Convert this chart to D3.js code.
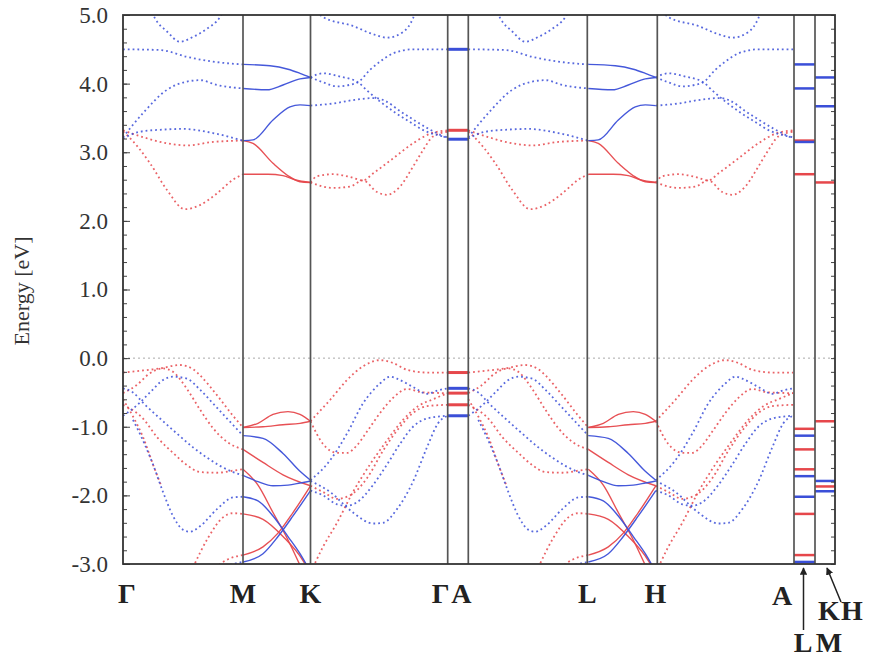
<!DOCTYPE html>
<html>
<head>
<meta charset="utf-8">
<script src="https://cdn.jsdelivr.net/npm/d3@7"></script>
<style>
  body { margin: 0; background: #fff; }
  svg text { font-family: "Liberation Serif", "DejaVu Serif", serif; }
</style>
</head>
<body>
<div id="chart"></div>
<script>
// k path nodes (arbitrary k units along the path)
const kNodes = [0, 120, 187.5, 324.7, 345.3, 464.3, 534.3, 671, 692, 712];
const kA = 345.3; // start of the kz = pi/c plane (A-L-H-A), same dispersion at this scale

// spin-up (red) / spin-down (blue) bands, [k, E(eV)]
// Gamma-M
const gmRed = [
  [[0,3.32],[20,3.22],[44,3.13],[64,3.10],[90,3.15],[120,3.17]],
  [[0,3.30],[4,3.25],[27,2.84],[44,2.45],[62,2.17],[77,2.23],[94,2.40],[110,2.60],[120,2.68]],
  [[0,-0.21],[20,-0.18],[37,-0.15],[57,-0.10],[70,-0.16],[77,-0.25],[94,-0.54],[110,-0.84],[120,-1.01]],
  [[0,-0.51],[13,-0.40],[27,-0.22],[40,-0.15],[50,-0.20],[64,-0.45],[77,-0.75],[90,-1.02],[104,-1.22],[120,-1.33]],
  [[0,-0.68],[20,-0.88],[34,-1.15],[50,-1.38],[64,-1.56],[77,-1.66],[94,-1.67],[110,-1.64],[120,-1.62]],
  [[0,-0.60],[10,-0.85],[20,-1.15],[30,-1.55],[38,-1.85]],
  [[70,-3.05],[85,-2.62],[100,-2.32],[110,-2.26],[120,-2.27]],
  [[92,-3.05],[105,-2.93],[120,-2.87]]
];
const gmBlue = [
  [[0,4.50],[37,4.49],[64,4.39],[90,4.32],[120,4.28]],
  [[0,3.22],[20,3.57],[44,3.91],[64,4.03],[77,4.05],[94,3.98],[120,3.93]],
  [[0,3.20],[17,3.30],[40,3.33],[60,3.34],[90,3.28],[120,3.17]],
  [[27,5.10],[32,4.95],[44,4.76],[57,4.61],[70,4.68],[84,4.80],[97,4.97],[102,5.10]],
  [[0,-0.84],[13,-0.70],[27,-0.50],[40,-0.32],[50,-0.27],[64,-0.30],[77,-0.46],[90,-0.66],[104,-0.88],[120,-1.13]],
  [[0,-0.44],[10,-0.50],[20,-0.65],[37,-0.88],[54,-1.10],[70,-1.30],[84,-1.45],[97,-1.57],[110,-1.66],[120,-1.71]],
  [[10,-0.90],[20,-1.20],[30,-1.55],[40,-1.95],[50,-2.30],[60,-2.50],[67,-2.53],[77,-2.45],[94,-2.20],[110,-2.03],[120,-2.02]],
  [[98,-3.05],[110,-3.0],[120,-2.97]]
];
// M-K
const mkRed = [
  [[120,3.17],[130,3.13],[150,2.84],[167,2.64],[177,2.57],[187.5,2.56]],
  [[120,2.68],[145,2.68],[160,2.66],[172,2.60],[187.5,2.56]],
  [[120,-1.01],[135,-0.95],[150,-0.82],[165,-0.78],[177,-0.82],[187.5,-0.92]],
  [[120,-1.01],[140,-1.00],[160,-0.97],[177,-0.95],[187.5,-0.92]],
  [[120,-1.33],[140,-1.52],[160,-1.70],[187.5,-1.86]],
  [[120,-1.62],[135,-1.85],[150,-2.25],[165,-2.65],[178,-3.05]],
  [[120,-2.27],[140,-2.35],[160,-2.60],[180,-2.95],[184,-3.05]],
  [[120,-2.87],[140,-2.75],[155,-2.55],[170,-2.25],[187.5,-1.86]]
];
const mkBlue = [
  [[120,4.28],[147,4.26],[165,4.21],[177,4.15],[187.5,4.09]],
  [[120,3.93],[144,3.91],[160,3.98],[177,4.07],[187.5,4.09]],
  [[120,3.17],[130,3.18],[150,3.47],[167,3.66],[177,3.69],[187.5,3.68]],
  [[120,-1.13],[140,-1.17],[160,-1.39],[177,-1.65],[187.5,-1.78]],
  [[120,-1.71],[135,-1.80],[150,-1.86],[165,-1.85],[177,-1.82],[187.5,-1.79]],
  [[120,-2.02],[135,-2.08],[150,-2.30],[165,-2.60],[177,-2.85],[185,-3.05]],
  [[120,-2.97],[140,-2.85],[155,-2.60],[170,-2.30],[187.5,-1.93]]
];
// K-Gamma
const kgRed = [
  [[187.5,2.56],[194,2.65],[210,2.68],[227,2.64],[240,2.59],[250,2.69],[270,2.91],[290,3.13],[307,3.27],[324.7,3.32]],
  [[187.5,2.56],[210,2.48],[227,2.50],[240,2.59],[254,2.42],[264,2.38],[277,2.50],[290,2.79],[300,3.03],[310,3.23],[324.7,3.30]],
  [[187.5,-0.92],[190,-0.88],[207,-0.61],[224,-0.32],[240,-0.12],[257,-0.03],[270,-0.07],[284,-0.17],[304,-0.21],[324.7,-0.21]],
  [[187.5,-0.92],[200,-1.25],[214,-1.38],[224,-1.38],[234,-1.27],[244,-1.07],[257,-0.80],[270,-0.58],[284,-0.45],[300,-0.50],[324.7,-0.51]],
  [[187.5,-1.86],[200,-1.95],[214,-2.05],[227,-2.00],[244,-1.75],[260,-1.35],[277,-1.00],[290,-0.80],[304,-0.70],[324.7,-0.68]],
  [[190,-3.05],[200,-2.75],[214,-2.40],[230,-1.95],[247,-1.55],[264,-1.20],[280,-0.90],[295,-0.70],[310,-0.60],[324.7,-0.51]]
];
const kgBlue = [
  [[187.5,4.09],[200,4.15],[218,4.10],[235,4.02],[244,3.90],[257,3.74],[272,3.58],[287,3.44],[302,3.31],[317,3.24],[324.7,3.22]],
  [[187.5,4.09],[200,4.02],[214,3.96],[226,3.98],[235,4.02],[247,4.20],[257,4.32],[270,4.44],[290,4.50],[324.7,4.50]],
  [[187.5,3.68],[210,3.71],[230,3.76],[252,3.79],[262,3.75],[277,3.60],[292,3.46],[307,3.33],[324.7,3.20]],
  [[190,5.10],[200,4.97],[230,4.84],[250,4.72],[264,4.67],[280,4.75],[290,4.95],[294,5.10]],
  [[187.5,-1.78],[207,-1.49],[224,-1.10],[240,-0.66],[257,-0.37],[267,-0.27],[274,-0.30],[290,-0.42],[304,-0.52],[315,-0.47],[324.7,-0.44]],
  [[187.5,-1.93],[200,-2.00],[214,-2.13],[224,-2.15],[234,-2.10],[250,-1.85],[264,-1.55],[277,-1.25],[290,-1.00],[304,-0.88],[324.7,-0.84]],
  [[187.5,-1.79],[207,-1.95],[230,-2.25],[250,-2.41],[260,-2.40],[274,-2.20],[290,-1.80],[304,-1.30],[315,-0.95],[324.7,-0.84]]
];
// nearly flat bands along Gamma-A, L-M and K-H
const gaRed = [3.32, -0.21, -0.51, -0.68];
const gaBlue = [4.50, 3.19, -0.44, -0.84];
const lmRed = [3.17, 2.68, -1.03, -1.33, -1.62, -2.27, -2.87];
const lmBlue = [4.28, 3.93, 3.15, -1.13, -1.72, -2.02, -2.97];
const khRed = [2.56, -0.92, -1.87];
const khBlue = [4.09, 3.67, -1.79, -1.94];

const yTicks = d3.range(-3, 5.001, 1);

const RED = "#e6474b", BLUE = "#3b4fd8";

const width = 875, height = 659;
const x = d3.scaleLinear().domain([0, 712]).range([123, 835]);
const y = d3.scaleLinear().domain([-3, 5]).range([564, 15]);

const svg = d3.select("#chart").append("svg")
  .attr("width", width).attr("height", height);

svg.append("defs").append("clipPath").attr("id", "plot")
  .append("rect")
  .attr("x", x(0)).attr("y", y(5))
  .attr("width", x(712) - x(0)).attr("height", y(-3) - y(5));

const plot = svg.append("g").attr("clip-path", "url(#plot)");

// Fermi level
plot.append("line")
  .attr("x1", x(0)).attr("x2", x(712))
  .attr("y1", y(0)).attr("y2", y(0))
  .attr("stroke", "#aaa").attr("stroke-width", 1)
  .attr("stroke-dasharray", "2 3");

const line = d3.line()
  .x(d => x(d[0]))
  .y(d => y(d[1]))
  .curve(d3.curveMonotoneX);

function drawBands(bands, color, solid) {
  [0, kA].forEach(off => {
    plot.append("g")
      .selectAll("path")
      .data(bands)
      .join("path")
      .attr("d", b => line(b.map(p => [p[0] + off, p[1]])))
      .attr("fill", "none")
      .attr("stroke", color)
      .attr("stroke-width", solid ? 1.4 : 1.8)
      .attr("stroke-dasharray", solid ? null : "1.8 3")
      .attr("opacity", solid ? 0.95 : 0.85);
  });
}

drawBands(gmRed, RED, false);
drawBands(gmBlue, BLUE, false);
drawBands(kgRed, RED, false);
drawBands(kgBlue, BLUE, false);
drawBands(mkRed, RED, true);
drawBands(mkBlue, BLUE, true);

function drawFlat(levels, k0, k1, color, w) {
  plot.append("g")
    .selectAll("line")
    .data(levels)
    .join("line")
    .attr("x1", x(k0)).attr("x2", x(k1))
    .attr("y1", d => y(d)).attr("y2", d => y(d))
    .attr("stroke", color).attr("stroke-width", w);
}
drawFlat(gaRed, kNodes[3], kNodes[4], RED, 3);
drawFlat(gaBlue, kNodes[3], kNodes[4], BLUE, 3);
drawFlat(lmRed, kNodes[7], kNodes[8], RED, 2.5);
drawFlat(lmBlue, kNodes[7], kNodes[8], BLUE, 2.5);
drawFlat(khRed, kNodes[8], kNodes[9], RED, 2.5);
drawFlat(khBlue, kNodes[8], kNodes[9], BLUE, 2.5);

// high-symmetry lines
svg.append("g")
  .selectAll("line")
  .data(kNodes.slice(1, -1))
  .join("line")
  .attr("x1", d => x(d)).attr("x2", d => x(d))
  .attr("y1", y(5)).attr("y2", y(-3))
  .attr("stroke", "#555").attr("stroke-width", 1.7);

// axes: ticks point inwards
const minor = d3.range(-3, 5.001, 0.2);
svg.append("g")
  .attr("transform", `translate(${x(0)},0)`)
  .call(d3.axisLeft(y).tickValues(minor).tickSize(-4).tickFormat(""))
  .call(g => g.select(".domain").remove())
  .call(g => g.selectAll("line").attr("stroke", "#444"));
svg.append("g")
  .attr("transform", `translate(${x(0)},0)`)
  .call(d3.axisLeft(y).tickValues(yTicks).tickSize(-7).tickPadding(15).tickFormat(d => d.toFixed(1)))
  .call(g => g.select(".domain").remove())
  .call(g => g.selectAll("line").attr("stroke", "#444"))
  .call(g => g.selectAll("text").attr("font-size", 23).attr("fill", "#333")
    .attr("font-family", "Liberation Serif, serif"));
svg.append("g")
  .attr("transform", `translate(${x(712)},0)`)
  .call(d3.axisRight(y).tickValues(minor).tickSize(-4).tickFormat(""))
  .call(g => g.select(".domain").remove())
  .call(g => g.selectAll("line").attr("stroke", "#444"));

svg.append("rect")
  .attr("x", x(0)).attr("y", y(5))
  .attr("width", x(712) - x(0)).attr("height", y(-3) - y(5))
  .attr("fill", "none").attr("stroke", "#333").attr("stroke-width", 1.8);

svg.append("text")
  .attr("transform", `translate(29,291) rotate(-90)`)
  .attr("text-anchor", "middle")
  .attr("font-size", 22).attr("fill", "#333")
  .text("Energy [eV]");

// k-point labels
const kLabels = [
  {t: "Γ", k: 0, dx: 4, y: 603},
  {t: "M", k: 120, dx: 0, y: 603},
  {t: "K", k: 187.5, dx: 0, y: 603},
  {t: "Γ", k: 324.7, dx: -7, y: 603},
  {t: "A", k: 345.3, dx: -7, y: 603},
  {t: "L", k: 464.3, dx: 0, y: 603},
  {t: "H", k: 534.3, dx: -2, y: 603},
  {t: "A", k: 671, dx: -12, y: 605},
  {t: "K", k: 692, dx: 14, y: 620},
  {t: "H", k: 712, dx: 17, y: 620},
  {t: "L", k: 671, dx: 9, y: 652},
  {t: "M", k: 692, dx: 14, y: 652}
];
svg.append("g")
  .selectAll("text")
  .data(kLabels)
  .join("text")
  .attr("x", d => x(d.k) + d.dx)
  .attr("y", d => d.y)
  .attr("text-anchor", "middle")
  .attr("font-size", 28).attr("font-weight", "bold").attr("fill", "#222")
  .text(d => d.t);

// arrows to the short L-M and K-H segments
const defs = svg.select("defs");
defs.append("marker").attr("id", "head")
  .attr("viewBox", "0 0 10 10").attr("refX", 9).attr("refY", 5)
  .attr("markerWidth", 5).attr("markerHeight", 5).attr("orient", "auto")
  .append("path").attr("d", "M0,0L10,5L0,10z").attr("fill", "#222");
svg.append("line")
  .attr("x1", (x(671) + x(692)) / 2 - 1).attr("y1", 630)
  .attr("x2", (x(671) + x(692)) / 2 - 1).attr("y2", 568)
  .attr("stroke", "#222").attr("stroke-width", 1.5).attr("marker-end", "url(#head)");
svg.append("line")
  .attr("x1", 841).attr("y1", 602)
  .attr("x2", (x(692) + x(712)) / 2 + 2).attr("y2", 568)
  .attr("stroke", "#222").attr("stroke-width", 1.5).attr("marker-end", "url(#head)");
</script>
</body>
</html>
